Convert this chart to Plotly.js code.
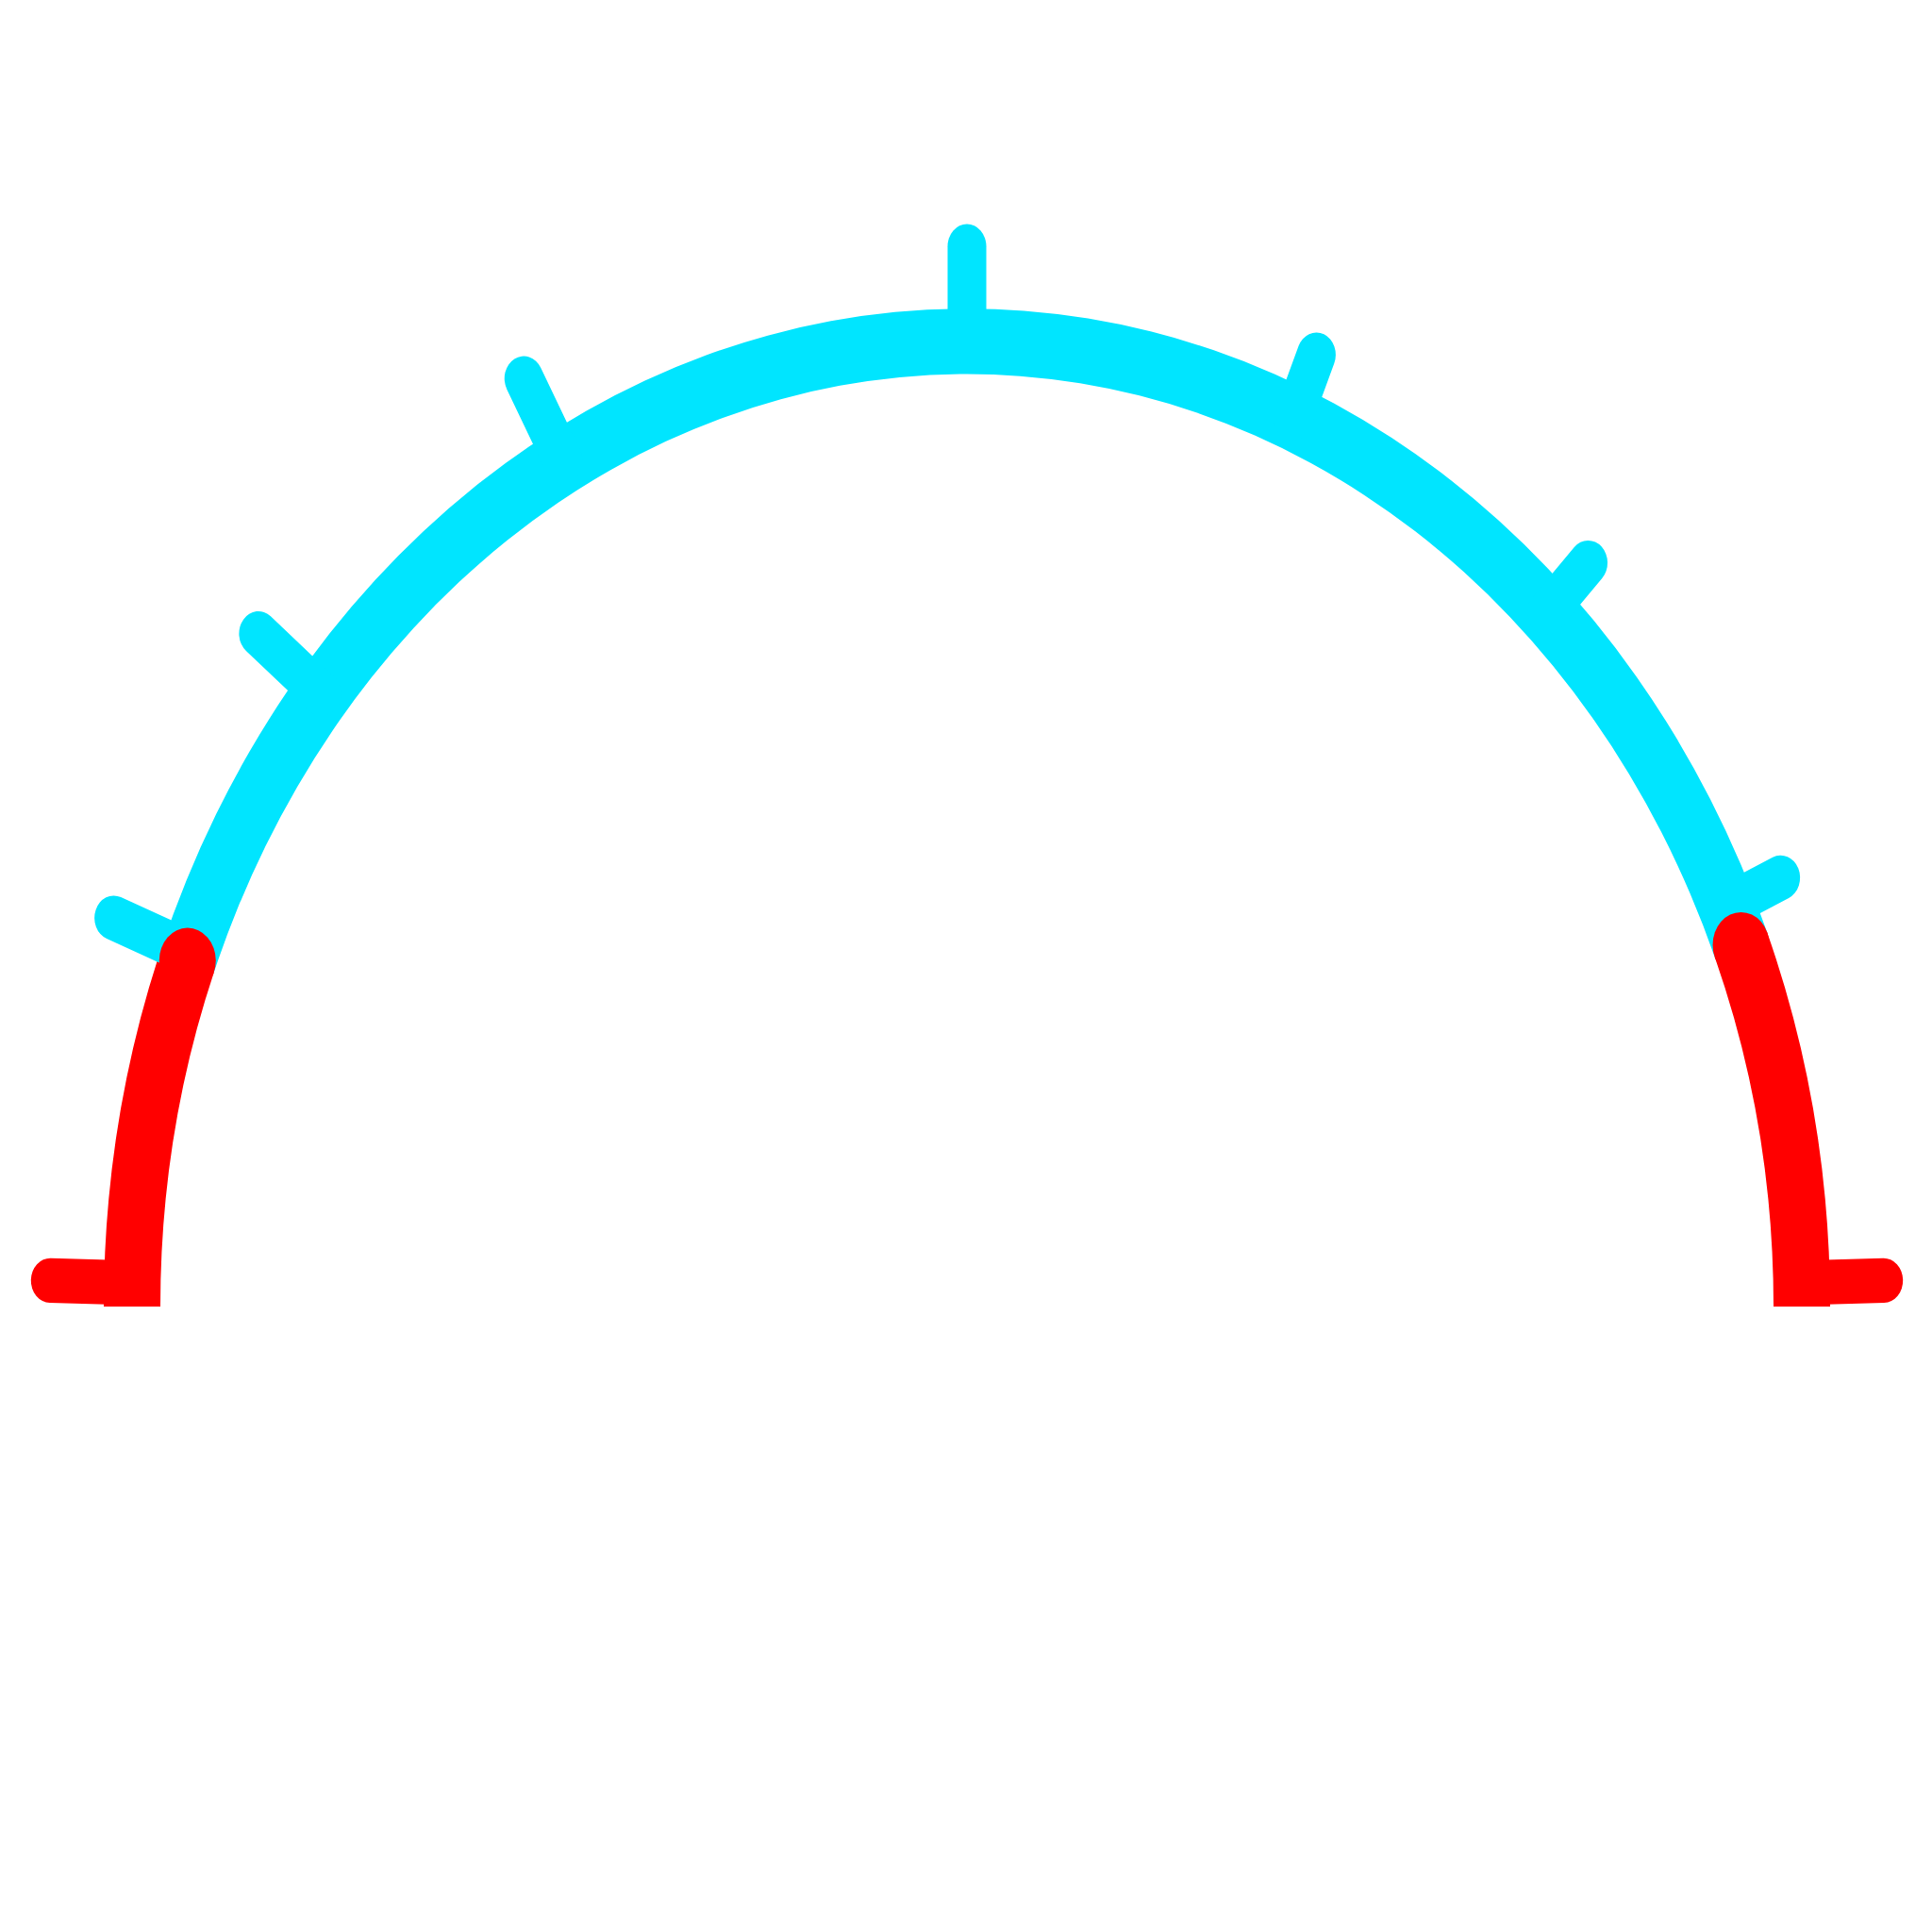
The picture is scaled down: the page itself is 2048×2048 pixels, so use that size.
<!DOCTYPE html>
<html>
<head>
<meta charset="utf-8">
<script src="https://cdn.plot.ly/plotly-3.0.1.min.js"></script>
<style>
  html, body { margin: 0; padding: 0; background: #fff; overflow: hidden; }
  /* the drawing is a little taller than wide, so stretch the polar plot */
  #wrap { width: 2048px; height: 1772px; transform: scaleY(1.156); transform-origin: 0 0; }
  #chart { width: 2048px; height: 1772px; }
  .js-line { stroke-linecap: round !important; vector-effect: none !important; }
</style>
</head>
<body>
<div id="wrap"><div id="chart"></div></div>
<script>
// gauge bands, angles in degrees (0 = right end, 180 = left end)
const bandFrom = [159, 22, 0];
const bandTo = [180, 159, 22];
const bandKind = ['alarm', 'normal', 'alarm'];

// tick marks, degrees
const tickAngles = [178.6, 158.5, 140.6, 118.9, 90, 67, 46, 24.5, 1.4];

const ringInner = 855;
const ringOuter = 915;
const tickFrom = 885;

const colors = { alarm: 'rgb(255,0,0)', normal: 'rgb(0,229,255)' };

function kindAt(theta) {
  for (let i = 0; i < bandFrom.length; i++) {
    if (theta >= bandFrom[i] && theta <= bandTo[i]) return bandKind[i];
  }
  return 'normal';
}

// the ticks on the right-hand side are drawn a bit shorter
function tickReach(theta) {
  if (theta >= 90 || kindAt(theta) === 'alarm') return 972;
  return 948;
}

const traces = [];

// ring bands
traces.push({
  type: 'barpolar',
  theta: bandFrom.map((a, i) => (a + bandTo[i]) / 2),
  width: bandFrom.map((a, i) => bandTo[i] - a),
  base: bandFrom.map(() => ringInner),
  r: bandFrom.map(() => ringOuter - ringInner),
  marker: { color: bandKind.map(k => colors[k]), line: { width: 0 } },
  hoverinfo: 'skip',
  showlegend: false
});

// ticks, one trace per colour with gaps between segments
['normal', 'alarm'].forEach(kind => {
  const th = [], rr = [];
  tickAngles.forEach(a => {
    if (kindAt(a) !== kind) return;
    th.push(a, a, null);
    rr.push(tickFrom, tickReach(a), null);
  });
  traces.push({
    type: 'scatterpolar',
    mode: 'lines',
    theta: th,
    r: rr,
    line: { color: colors[kind], width: 41 },
    cliponaxis: false,
    hoverinfo: 'skip',
    showlegend: false
  });
});

// rounded caps where the red bands meet the cyan one
const capTheta = [];
bandFrom.forEach((a, i) => {
  if (bandKind[i] !== 'alarm') return;
  if (a > 0) capTheta.push(a);
  if (bandTo[i] < 180) capTheta.push(bandTo[i]);
});
traces.push({
  type: 'scatterpolar',
  mode: 'markers',
  theta: capTheta,
  r: capTheta.map(() => (ringInner + ringOuter) / 2),
  marker: { color: colors.alarm, size: 60, line: { width: 0 } },
  cliponaxis: false,
  hoverinfo: 'skip',
  showlegend: false
});

const layout = {
  width: 2048,
  height: 1772,
  margin: { l: 0, r: 0, t: 0, b: 0 },
  paper_bgcolor: '#fff',
  showlegend: false,
  polar: {
    domain: { x: [25 / 2048, 2025 / 2048], y: [574 / 1772, 1574 / 1772] },
    sector: [0, 180],
    bgcolor: 'rgba(0,0,0,0)',
    radialaxis: { range: [0, 1000], visible: false, showgrid: false, showline: false, showticklabels: false, ticks: '' },
    angularaxis: { visible: false, showgrid: false, showline: false, showticklabels: false, ticks: '' }
  }
};

Plotly.newPlot('chart', traces, layout, { displayModeBar: false, staticPlot: true });
</script>
</body>
</html>
